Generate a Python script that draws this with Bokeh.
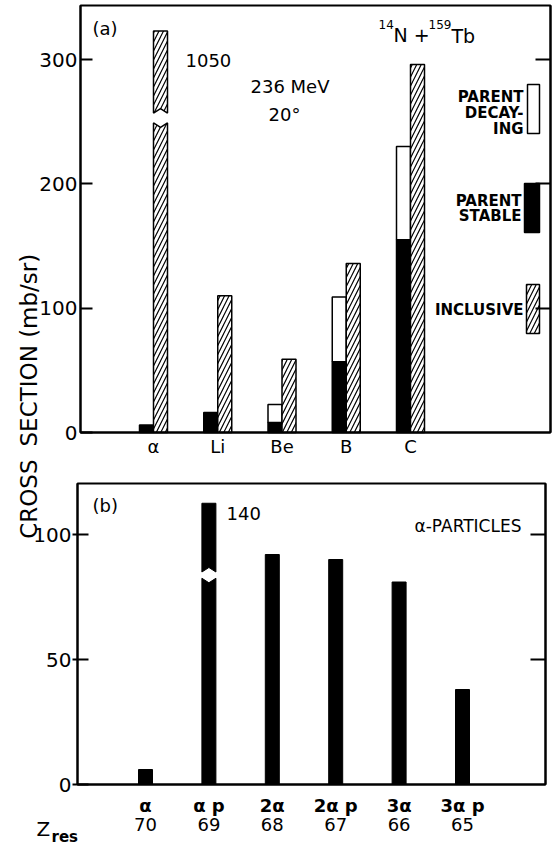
import math
from bokeh.plotting import figure
from bokeh.models import FixedTicker, LinearAxis, Label, Range1d
from bokeh.layouts import column
from bokeh.embed import file_html
from bokeh.resources import INLINE

# ---------------- data: panel (a) ----------------
fragments = ["α", "Li", "Be", "B", "C"]
parent_stable = [6, 16, 8, 57, 155]
parent_decaying = [0, 0, 14.5, 52, 75]
inclusive = [1050, 110, 59, 136, 296]
a_yticks = [0, 100, 200, 300]
a_break = (249, 257, 323)   # lower piece top, upper piece bottom, drawn top of off-scale bar

# ---------------- data: panel (b) ----------------
channels = ["α", "α p", "2α", "2α p", "3α", "3α p"]
z_res = ["70", "69", "68", "67", "66", "65"]
alpha_cs = [6, 140, 92, 90, 81, 38]
b_yticks = [0, 50, 100]
b_break = (82.5, 85, 112.5)

# ---------------- layout (page pixels) ----------------
FONT = "DejaVu Sans"
W = 552
HA, HB = 458, 390
A_TOP = 0
B_TOP = A_TOP + HA
LEFT, RIGHT = 0, W
A_BOX = (80, 550, 5)      # frame left, right, top (page px)
B_BOX = (77, 545, 483)


def ax(px): return (px - 153) / 64.25
def ay(py): return (432 - py) / 1.243
def bx(px): return (px - 145) / 63.4
def by(py): return (784 - py) / 2.5


def base_fig(h, xr, yr):
    p = figure(width=W, height=h, x_range=Range1d(*xr), y_range=Range1d(*yr),
               output_backend="svg", toolbar_location=None,
               min_border=0, min_border_left=0, min_border_right=0,
               min_border_top=0, min_border_bottom=0)
    p.xgrid.visible = False
    p.ygrid.visible = False
    p.outline_line_color = None
    p.background_fill_color = "white"
    p.border_fill_color = "white"
    return p


def lab(p, text, x, y, size, align="left", baseline="middle", bold=False, angle=0.0):
    p.add_layout(Label(x=x, y=y, text=text, text_font=FONT, text_font_size=f"{size}px",
                       text_align=align, text_baseline=baseline, angle=angle,
                       text_font_style="bold" if bold else "normal", text_color="black"))


def style_axis(axis, ticks, tin, tout, standoff, size, loc, bounds, labels=None, bold=False):
    axis.ticker = FixedTicker(ticks=ticks)
    if labels is not None:
        axis.major_label_overrides = dict(zip(ticks, labels))
    axis.fixed_location = loc
    axis.bounds = bounds
    axis.major_tick_in = tin
    axis.major_tick_out = tout
    axis.minor_tick_in = 0
    axis.minor_tick_out = 0
    axis.major_tick_line_width = 2
    axis.major_tick_line_color = "black"
    axis.axis_line_width = 2
    axis.axis_line_color = "black"
    axis.major_label_text_color = "black"
    axis.major_label_text_font = FONT
    axis.major_label_text_font_size = f"{size}px"
    axis.major_label_text_font_style = "bold" if bold else "normal"
    axis.major_label_standoff = standoff


HATCH = dict(fill_color="white", hatch_pattern="/", hatch_color="black", hatch_scale=9,
             hatch_weight=1.2, line_color="black", line_width=1.5)

# ================= panel (a) =================
pa = base_fig(HA, (ax(LEFT), ax(RIGHT)), (ay(A_TOP + HA), ay(A_TOP)))
fl, fr, ft = A_BOX
xa_b = (ax(fl), ax(fr))
ya_b = (0, ay(ft))
style_axis(pa.yaxis[0], a_yticks, 12, 0, 3, 20, ax(fl), ya_b)
style_axis(pa.xaxis[0], list(range(len(fragments))), 0, 0, 3, 18, 0, xa_b, labels=fragments)
ra = LinearAxis()
style_axis(ra, a_yticks[1:], 15, 0, 0, 1, ax(fr), ya_b, labels=[""] * 3)
pa.add_layout(ra, "right")

wa = 14 / 64.25
xs_left = [i - wa / 2 for i in range(len(fragments))]
xs_right = [i + wa / 2 for i in range(len(fragments))]
totals = [s + d for s, d in zip(parent_stable, parent_decaying)]

pa.vbar(x=xs_left, width=wa, bottom=0, top=parent_stable,
        fill_color="black", line_color="black", line_width=1.5)
dec = [i for i, d in enumerate(parent_decaying) if d > 0]
pa.vbar(x=[xs_left[i] for i in dec], width=wa, bottom=[parent_stable[i] for i in dec],
        top=[totals[i] for i in dec], fill_color="white", line_color="black", line_width=1.5)

lo, hi, top = a_break
on_scale = [i for i, v in enumerate(inclusive) if v <= top]
pa.vbar(x=[xs_right[i] for i in on_scale], width=wa, bottom=0,
        top=[inclusive[i] for i in on_scale], **HATCH)
notch_a = 4.5 / 1.243
pxs, pys = [], []
for i, v in enumerate(inclusive):
    if v > top:
        L, R, C = xs_right[i] - wa / 2, xs_right[i] + wa / 2, xs_right[i]
        pxs += [[L, R, R, C, L], [L, C, R, R, L]]
        pys += [[0, 0, lo, lo - notch_a, lo], [hi, hi + notch_a, hi, top, top]]
pa.patches(xs=pxs, ys=pys, **HATCH)

# legend swatches (page pixel boxes)
pa.quad(left=[ax(527)], right=[ax(539)], bottom=[ay(133)], top=[ay(84)],
        fill_color="white", line_color="black", line_width=1.5)
pa.quad(left=[ax(524)], right=[ax(539)], bottom=[ay(232)], top=[ay(183)],
        fill_color="black", line_color="black", line_width=1.5)
pa.quad(left=[ax(526)], right=[ax(539)], bottom=[ay(333)], top=[ay(284)], **HATCH)
for t, yy in [("PARENT", 96), ("DECAY-", 112), ("ING", 128)]:
    lab(pa, t, ax(523), ay(yy), 15, align="right", bold=True)
for t, yy in [("PARENT", 200), ("STABLE", 215)]:
    lab(pa, t, ax(521), ay(yy), 15, align="right", bold=True)
lab(pa, "INCLUSIVE", ax(523), ay(309), 15, align="right", bold=True)

lab(pa, "(a)", ax(92), ay(28), 18)
lab(pa, "1050", ax(185), ay(60), 18)
lab(pa, "236 MeV", ax(250), ay(86), 18)
lab(pa, "20°", ax(268), ay(114), 18)
# title  14N + 159Tb
lab(pa, "14", ax(378), ay(24), 12)
lab(pa, "N +", ax(393), ay(34), 19)
lab(pa, "159", ax(428), ay(24), 12)
lab(pa, "Tb", ax(451), ay(35), 19)
lab(pa, "SECTION (mb/sr)", ax(28), ay(446), 23, angle=math.pi / 2)

pa.quad(left=[xa_b[0]], right=[xa_b[1]], bottom=[ya_b[0]], top=[ya_b[1]],
        fill_color=None, line_color="black", line_width=2)

# ================= panel (b) =================
pb = base_fig(HB, (bx(LEFT), bx(RIGHT)), (by(B_TOP + HB), by(B_TOP)))
fl, fr, ft = B_BOX
xb_b = (bx(fl), bx(fr))
yb_b = (0, by(ft))
style_axis(pb.yaxis[0], b_yticks, 11, 5, 1, 20, bx(fl), yb_b)
style_axis(pb.xaxis[0], list(range(len(channels))), 0, 0, 10, 18, 0, xb_b,
           labels=channels, bold=True)
zax = LinearAxis()
style_axis(zax, list(range(len(z_res))), 0, 0, 33, 18, 0, xb_b, labels=z_res)
zax.axis_line_color = None
pb.add_layout(zax, "below")
rb = LinearAxis()
style_axis(rb, b_yticks[1:], 15, 0, 0, 1, bx(fr), yb_b, labels=[""] * 2)
pb.add_layout(rb, "right")

wb = 14 / 63.4
lo, hi, top = b_break
on_b = [i for i, v in enumerate(alpha_cs) if v <= top]
pb.vbar(x=on_b, width=wb, bottom=0, top=[alpha_cs[i] for i in on_b],
        fill_color="black", line_color="black", line_width=1)
notch_b = 4.5 / 2.5
pxs, pys = [], []
for i, v in enumerate(alpha_cs):
    if v > top:
        L, R, C = i - wb / 2, i + wb / 2, i
        pxs += [[L, R, R, C, L], [L, C, R, R, L]]
        pys += [[0, 0, lo, lo - notch_b, lo], [hi, hi + notch_b, hi, top, top]]
pb.patches(xs=pxs, ys=pys, fill_color="black", line_color="black", line_width=1)

lab(pb, "(b)", bx(92), by(505), 18)
lab(pb, "140", bx(226), by(513), 18)
lab(pb, "α-PARTICLES", bx(414), by(525), 17)
lab(pb, "CROSS", bx(28), by(459), 23, align="right", angle=math.pi / 2)
lab(pb, "Z", bx(36), by(828), 20)
lab(pb, "res", bx(51), by(836), 15, bold=True)

pb.quad(left=[xb_b[0]], right=[xb_b[1]], bottom=[yb_b[0]], top=[yb_b[1]],
        fill_color=None, line_color="black", line_width=2)

layout = column(pa, pb)
open("out.html", "w").write(file_html(layout, INLINE))
